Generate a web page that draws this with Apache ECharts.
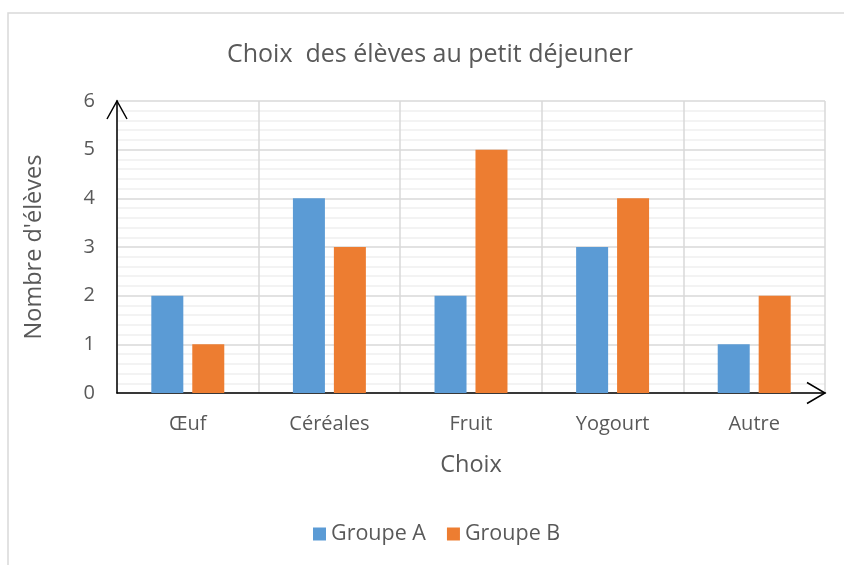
<!DOCTYPE html>
<html>
<head>
<meta charset="utf-8">
<script src="https://cdn.jsdelivr.net/npm/echarts@6/dist/echarts.min.js"></script>
<style>
  html, body { margin: 0; padding: 0; background: #fff; }
  #chart { width: 844px; height: 565px; }
</style>
</head>
<body>
<div id="chart"></div>
<script>
// Breakfast choices per group
const categories = ['Œuf', 'Céréales', 'Fruit', 'Yogourt', 'Autre'];
const groupA = [2, 4, 2, 3, 1];
const groupB = [1, 3, 5, 4, 2];
const seriesNames = ['Groupe A', 'Groupe B'];
const yTicks = [0, 1, 2, 3, 4, 5, 6];

const FONT = '"Open Sans", "Noto Sans", sans-serif';
const TEXT = '#595959';

const chart = echarts.init(document.getElementById('chart'), null, { renderer: 'canvas' });

const option = {
  animation: false,
  backgroundColor: '#ffffff',
  title: {
    text: 'Choix  des élèves au petit déjeuner',
    left: 222,
    top: 37,
    textStyle: { fontFamily: FONT, fontSize: 25, fontWeight: 'normal', color: TEXT }
  },
  legend: {
    bottom: 15,
    left: 308,
    icon: 'rect',
    itemWidth: 13,
    itemHeight: 13,
    itemGap: 21,
    data: seriesNames,
    textStyle: { fontFamily: FONT, fontSize: 21.5, color: TEXT }
  },
  grid: { left: 117, right: 19, top: 101, bottom: 172, containLabel: false },
  xAxis: {
    type: 'category',
    data: categories,
    name: 'Choix',
    nameLocation: 'middle',
    nameGap: 60,
    nameTextStyle: { fontFamily: FONT, fontSize: 23.5, color: TEXT },
    axisLine: { show: true, lineStyle: { color: '#000', width: 1.5 } },
    axisTick: { show: false },
    axisLabel: { margin: 21, fontFamily: FONT, fontSize: 20, color: TEXT },
    splitLine: { show: true, interval: 0, lineStyle: { color: '#D9D9D9', width: 1.5 } }
  },
  yAxis: {
    type: 'value',
    min: yTicks[0],
    max: yTicks[yTicks.length - 1],
    interval: 1,
    name: "Nombre d'élèves",
    nameLocation: 'middle',
    nameGap: 71,
    nameTextStyle: { fontFamily: FONT, fontSize: 23.5, color: TEXT },
    axisLine: { show: true, lineStyle: { color: '#000', width: 1.5 } },
    axisTick: { show: false },
    axisLabel: { margin: 22, fontFamily: FONT, fontSize: 20, color: TEXT },
    splitLine: { show: true, lineStyle: { color: '#D9D9D9', width: 1.5 } },
    minorTick: { show: false, splitNumber: 5 },
    minorSplitLine: { show: true, lineStyle: { color: '#EFEFEF', width: 1.5 } }
  },
  series: [
    {
      name: seriesNames[0],
      type: 'bar',
      data: groupA,
      barWidth: 32,
      barGap: '28%',
      itemStyle: { color: '#5B9BD5' }
    },
    {
      name: seriesNames[1],
      type: 'bar',
      data: groupB,
      barWidth: 32,
      barGap: '28%',
      itemStyle: { color: '#ED7D31' }
    }
  ]
};

chart.setOption(option);

// Open chevron arrowheads on the axes and the outer chart frame
const grid = chart.getModel().getComponent('grid').coordinateSystem.getRect();
const xEnd = grid.x + grid.width;
const yTop = grid.y;
const yBottom = grid.y + grid.height;
const xLeft = grid.x;

chart.setOption({
  graphic: [
    {
      type: 'rect',
      shape: { x: 8, y: 13, width: 900, height: 600 },
      style: { fill: 'none', stroke: '#D9D9D9', lineWidth: 1.5 },
      silent: true,
      z: -10
    },
    {
      type: 'polyline',
      shape: { points: [[xLeft - 10, yTop + 18], [xLeft, yTop], [xLeft + 10, yTop + 18]] },
      style: { fill: 'none', stroke: '#000', lineWidth: 1.5 },
      z: 100
    },
    {
      type: 'polyline',
      shape: { points: [[xEnd - 18, yBottom - 10.5], [xEnd, yBottom], [xEnd - 18, yBottom + 10.5]] },
      style: { fill: 'none', stroke: '#000', lineWidth: 1.5 },
      z: 100
    }
  ]
});
</script>
</body>
</html>
